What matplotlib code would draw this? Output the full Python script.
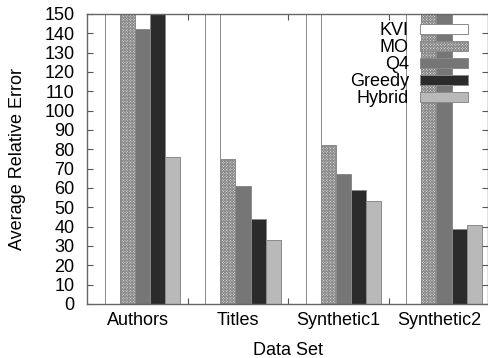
import numpy as np
import matplotlib
matplotlib.use("Agg")
import matplotlib.pyplot as plt
from matplotlib.ticker import FixedLocator

plt.rcParams["font.family"] = ["Liberation Sans", "DejaVu Sans"]
plt.rcParams["hatch.linewidth"] = 0.7

DATASETS = ["Authors", "Titles", "Synthetic1", "Synthetic2"]
METHODS = ["KVI", "MO", "Q4", "Greedy", "Hybrid"]

# values above 150 run off the top of the chart (clipped in the original too)
KVI    = [250, 210, 230, 400]
MO     = [190, 75, 82, 300]
Q4     = [142, 61, 67, 280]
GREEDY = [160, 44, 59, 39]
HYBRID = [76, 33, 53, 41]

STYLES = {
    "KVI":    dict(color="white",   hatch=None),
    "MO":     dict(color="#e8e8e8", hatch="x" * 12),
    "Q4":     dict(color="#767676", hatch=None),
    "Greedy": dict(color="#2b2b2b", hatch=None),
    "Hybrid": dict(color="#b9b9b9", hatch=None),
}
EDGE = "#8a8a8a"


def main():
    series = [KVI, MO, Q4, GREEDY, HYBRID]
    x = np.arange(len(DATASETS))
    width = 0.15

    fig = plt.figure(figsize=(4.89, 3.58), dpi=100)
    ax = fig.add_axes([0.178, 0.151, 0.820, 0.810])

    for j, (name, vals) in enumerate(zip(METHODS, series)):
        st = STYLES[name]
        ax.bar(x + (j - 2) * width, vals, width, color=st["color"],
               hatch=st["hatch"], edgecolor=EDGE, linewidth=0.7,
               label=name)

    ax.set_xlim(-0.552, 3.438)
    ax.set_ylim(0, 150)
    ax.set_yticks(np.arange(0, 151, 10))

    # tick marks sit between groups, labels a little left of group centre
    ax.xaxis.set_major_locator(FixedLocator(x[:-1] + 0.45))
    ax.xaxis.set_minor_locator(FixedLocator(x - 0.05))
    ax.set_xticklabels([], minor=False)
    ax.set_xticklabels(DATASETS, minor=True)
    ax.tick_params(axis="x", which="minor", length=0, pad=6, labelsize=13)
    ax.tick_params(axis="x", which="major", direction="in", length=4,
                   top=True, color="#555555")
    ax.tick_params(axis="y", direction="in", length=4, right=True,
                   labelsize=13, pad=9, color="#555555")

    for sp in ax.spines.values():
        sp.set_color("#666666")
        sp.set_linewidth(1.0)

    ax.set_xlabel("Data Set", fontsize=13, labelpad=9)
    ax.set_ylabel("Average Relative Error", fontsize=13, labelpad=13)

    ax.legend(loc="upper right", bbox_to_anchor=(0.951, 0.972),
              markerfirst=False, frameon=False, fontsize=13,
              handlelength=2.7, handleheight=0.5, handletextpad=0.6,
              labelspacing=0.0, borderpad=0, borderaxespad=0)

    fig.savefig("out.png", dpi=100)


if __name__ == "__main__":
    main()
